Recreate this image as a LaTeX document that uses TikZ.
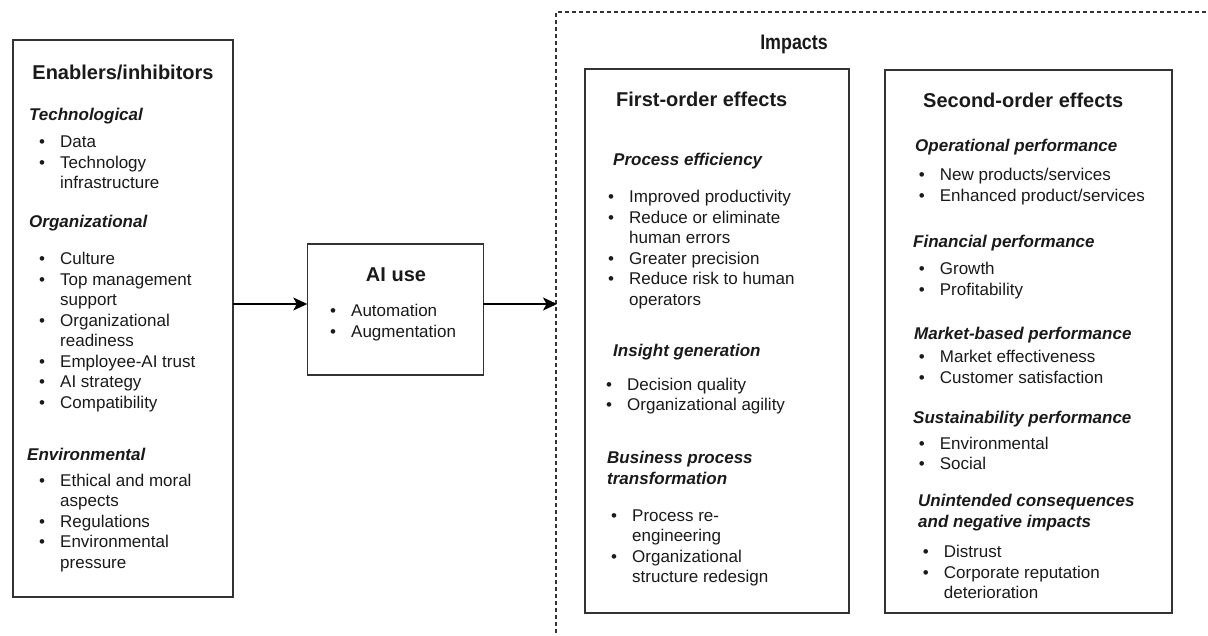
\documentclass[tikz,border=0pt]{standalone}
\usepackage{fontspec}
\setmainfont{Liberation Sans}
\usetikzlibrary{arrows.meta}
\definecolor{ln}{HTML}{333333}
\definecolor{tx}{HTML}{1A1A1A}
\newcommand\blt[1]{\begin{tabular}[t]{@{}p{21pt}@{}l@{}}#1\end{tabular}}
\newcommand\bi{\textbullet}
\begin{document}
\begin{tikzpicture}[x=1pt,y=-1pt,
  box/.style={draw=ln,line width=1.3pt,inner sep=0pt,outer sep=0pt,fill=white},
  ttl/.style={anchor=base,text=tx,inner sep=0pt,font=\fontsize{20}{24}\selectfont\bfseries},
  ttlw/.style={anchor=base west,text=tx,inner sep=0pt,font=\fontsize{20}{24}\selectfont\bfseries},
  hdr/.style={anchor=base west,text=tx,inner sep=0pt,align=left,font=\fontsize{17}{20.7}\selectfont\bfseries\itshape},
  lst/.style={anchor=base west,text=tx,inner sep=0pt,font=\fontsize{17}{20.5}\selectfont},
  arr/.style={draw=black,line width=1.3pt,-{Stealth[length=14pt,width=13pt,inset=3.5pt]}},
  dsh/.style={draw=ln,line width=1.1pt,dash pattern=on 4pt off 3pt}]
\useasboundingbox (0,0) rectangle (1208,636);
\fill[white] (0,0) rectangle (1208,636);

% boxes
\node[box,minimum width=220pt,minimum height=557pt] (left) at (123,318.5) {};
\node[box,minimum width=176pt,minimum height=131pt] (ai) at (395.3,309.5) {};
\node[box,minimum width=264pt,minimum height=544pt] (first) at (717,341) {};
\node[box,minimum width=287pt,minimum height=543pt] (second) at (1028.5,341.5) {};

% dashed impacts frame
\coordinate (dbl) at (556,640);
\coordinate (dtl) at (556,12);
\coordinate (dtr) at (1212,12);
\draw[dsh] (dbl) -- (dtl) -- (dtr);
\node[ttl,font=\fontsize{21}{24}\selectfont\bfseries] (imp) at (794,50) {\scalebox{0.85}[1]{Impacts}};

% arrows
\coordinate (ay) at (0,304);
\coordinate (impin) at (557,304);
\draw[arr] (left.east |- ay) -- (ai.west |- ay);
\draw[arr] (ai.east |- ay) -- (impin);

% left box
\node[ttl] (lt) at (123,80) {Enablers/inhibitors};
\node[hdr] (lh1) at (29,121) {Technological};
\node[lst] (ll1) at (39,148) {\blt{\bi & Data\\ \bi & Technology\\ & infrastructure}};
\node[hdr] (lh2) at (29,228) {Organizational};
\node[lst] (ll2) at (39,265) {\blt{\bi & Culture\\ \bi & Top management\\ & support\\ \bi & Organizational\\ & readiness\\ \bi & Employee-AI trust\\ \bi & AI strategy\\ \bi & Compatibility}};
\node[hdr] (lh3) at (27,460) {Environmental};
\node[lst] (ll3) at (39,486) {\blt{\bi & Ethical and moral\\ & aspects\\ \bi & Regulations\\ \bi & Environmental\\ & pressure}};

% AI use
\node[ttl] (at) at (396,282) {AI use};
\node[lst] (al) at (330,317) {\blt{\bi & Automation\\ \bi & Augmentation}};

% first-order
\node[ttlw] (ft) at (616,107) {First-order effects};
\node[hdr] (fh1) at (613,166) {Process efficiency};
\node[lst] (fl1) at (608,202.7) {\blt{\bi & Improved productivity\\ \bi & Reduce or eliminate\\ & human errors\\ \bi & Greater precision\\ \bi & Reduce risk to human\\ & operators}};
\node[hdr] (fh2) at (613,356) {Insight generation};
\node[lst] (fl2) at (606,390.3) {\blt{\bi & Decision quality\\ \bi & Organizational agility}};
\node[hdr] (fh3) at (607,484.3) {Business process\\ transformation};
\node[lst] (fl3) at (611,521) {\blt{\bi & Process re-\\ & engineering\\ \bi & Organizational\\ & structure redesign}};

% second-order
\node[ttlw] (st) at (923,107.5) {Second-order effects};
\node[hdr] (sh1) at (915,152) {Operational performance};
\node[lst] (sl1) at (918.7,181) {\blt{\bi & New products/services\\ \bi & Enhanced product/services}};
\node[hdr] (sh2) at (913,248) {Financial performance};
\node[lst] (sl2) at (918.7,275) {\blt{\bi & Growth\\ \bi & Profitability}};
\node[hdr] (sh3) at (914,339.5) {Market-based performance};
\node[lst] (sl3) at (918.7,362.7) {\blt{\bi & Market effectiveness\\ \bi & Customer satisfaction}};
\node[hdr] (sh4) at (913,423) {Sustainability performance};
\node[lst] (sl4) at (918.7,449.3) {\blt{\bi & Environmental\\ \bi & Social}};
\node[hdr] (sh5) at (918,527.5) {Unintended consequences\\ and negative impacts};
\node[lst] (sl5) at (922.7,557.7) {\blt{\bi & Distrust\\ \bi & Corporate reputation\\ & deterioration}};
\end{tikzpicture}
\end{document}
